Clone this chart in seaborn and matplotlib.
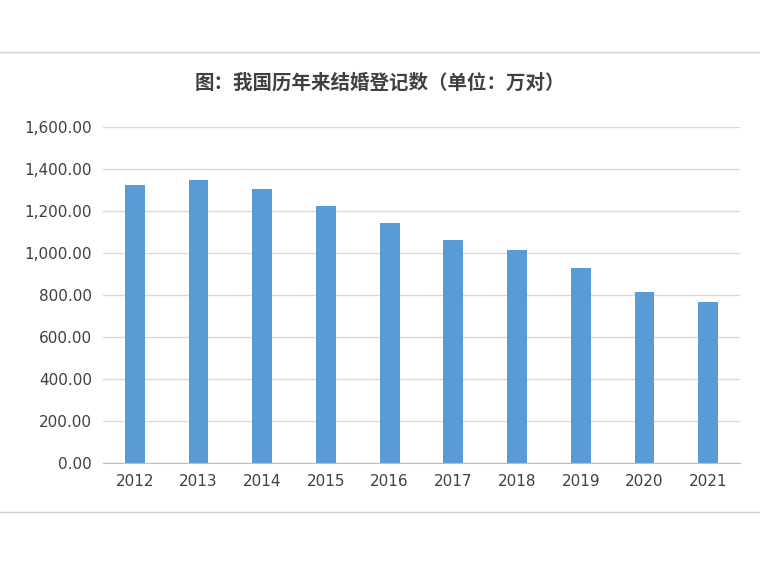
import matplotlib
matplotlib.use("Agg")
import matplotlib.pyplot as plt
import seaborn as sns
import pandas as pd
from matplotlib.ticker import FuncFormatter

years = ["2012", "2013", "2014", "2015", "2016", "2017", "2018", "2019", "2020", "2021"]
marriages = [1323.6, 1346.9, 1306.7, 1224.7, 1142.8, 1063.1, 1013.9, 927.3, 814.3, 764.3]
title = "图：我国历年来结婚登记数（单位：万对）"

df = pd.DataFrame({"year": years, "count": marriages})

fig = plt.figure(figsize=(7.6, 5.65), dpi=100)
# outer frame lines of the embedded chart
fig.add_artist(plt.Line2D([0, 1], [1 - 52 / 565, 1 - 52 / 565], color="#d0d0d0", lw=1))
fig.add_artist(plt.Line2D([0, 1], [1 - 512 / 565, 1 - 512 / 565], color="#d0d0d0", lw=1))

ax = fig.add_axes([103 / 760, 1 - 463 / 565, 637 / 760, 336 / 565])
sns.barplot(data=df, x="year", y="count", color="#5b9bd5", width=0.31, saturation=1, ax=ax)

ax.set_ylim(0, 1600)
ax.set_yticks(range(0, 1601, 200))
ax.yaxis.set_major_formatter(FuncFormatter(lambda v, p: f"{v:,.2f}"))
ax.grid(axis="y", color="#d9d9d9", lw=1)
ax.set_axisbelow(True)
for s in ["top", "right", "left"]:
    ax.spines[s].set_visible(False)
ax.spines["bottom"].set_color("#bfbfbf")
ax.tick_params(axis="y", length=0, labelsize=11, colors="#404040", pad=8)
ax.tick_params(axis="x", length=0, labelsize=11, colors="#404040", pad=8)
ax.set_xlim(-0.5, len(years) - 0.5)
ax.set_xlabel("")
ax.set_ylabel("")

fig.text(0.5, 1 - 83 / 565, title, ha="center", va="center", fontsize=14,
         fontweight="bold", family="Noto Sans CJK SC", color="#404040")

fig.savefig("out.png", dpi=100, facecolor="white")
